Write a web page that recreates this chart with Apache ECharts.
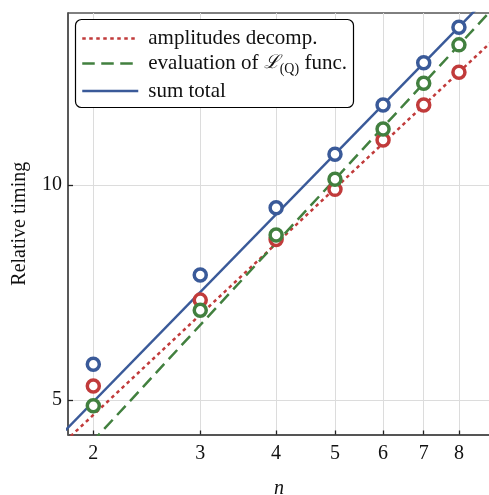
<!DOCTYPE html>
<html>
<head>
<meta charset="utf-8">
<script src="https://cdn.jsdelivr.net/npm/echarts@6/dist/echarts.min.js"></script>
<style>
  html, body { margin: 0; padding: 0; background: #fff; overflow: hidden; }
  #chart { width: 489px; height: 495px; }
</style>
</head>
<body>
<div id="chart"></div>
<script>
// Problem size n and relative timings (log-log plot)
const nValues = [2, 3, 4, 5, 6, 7, 8];
const amplitudesDecomp = [5.23, 6.90, 8.39, 9.86, 11.56, 12.94, 14.38];
const evaluationFunc = [4.91, 6.68, 8.51, 10.19, 11.98, 13.88, 15.71];
const sumTotal = [5.61, 7.48, 9.29, 11.04, 12.94, 14.83, 16.63];

// Power-law fits, evaluated at the ends of the n range
const fitN = [1.8, 9.2];
const amplitudesFit = [4.381, 16.08];
const evaluationFit = [3.980, 17.85];
const sumTotalFit = [4.536, 18.80];

// Axis ticks and ranges
const xTicks = [2, 3, 4, 5, 6, 7, 8];
const yTicks = [5, 10];
const xRange = [1.817, 9.0];
const yRange = [4.474, 17.41];

const names = ['amplitudes decomp.', 'evaluation of \u2112 func.', 'sum total'];
const colors = ['#c13b3b', '#42803f', '#3a5a99'];

const lg = Math.log10;
const toPts = (xs, ys) => xs.map((x, i) => [lg(x), lg(ys[i])]);

const FONT = 'Liberation Serif';

const lineSeries = (name, ys, color, type) => ({
  name: name,
  type: 'line',
  data: toPts(fitN, ys),
  symbol: 'none',
  showSymbol: false,
  clip: true,
  lineStyle: { color: color, width: 2.5, type: type },
  itemStyle: { color: color },
  z: 3,
  silent: true
});

const scatterSeries = (ys, color) => ({
  type: 'scatter',
  data: toPts(nValues, ys),
  symbol: 'circle',
  symbolSize: 12,
  itemStyle: { color: '#fff', borderColor: color, borderWidth: 3.5, opacity: 1 },
  z: 4,
  silent: true
});

const chart = echarts.init(document.getElementById('chart'), null, { renderer: 'canvas', width: 489, height: 495 });

chart.setOption({
  animation: false,
  backgroundColor: '#fff',
  grid: {
    left: 68, top: 13, width: 422, height: 421.5,
    outerBoundsMode: 'none',
    containLabel: false,
    show: true, borderColor: '#000', borderWidth: 1, backgroundColor: 'transparent'
  },
  xAxis: {
    type: 'value',
    min: lg(xRange[0]), max: lg(xRange[1]),
    name: 'n',
    nameLocation: 'middle',
    nameGap: 44,
    nameTextStyle: { fontFamily: FONT, fontStyle: 'italic', fontSize: 20, color: '#111' },
    axisLine: { show: true, lineStyle: { color: '#555', width: 1.8 } },
    axisTick: { show: true, inside: true, length: 4, lineStyle: { color: '#222', width: 1.3 }, customValues: xTicks.map(lg) },
    axisLabel: {
      customValues: xTicks.map(lg),
      margin: 9,
      fontFamily: FONT, fontSize: 20, color: '#111',
      formatter: v => String(Math.round(Math.pow(10, v)))
    },
    splitLine: { show: true, lineStyle: { color: '#dcdcdc', width: 1 } }
  },
  yAxis: {
    type: 'value',
    min: lg(yRange[0]), max: lg(yRange[1]),
    name: 'Relative timing',
    nameLocation: 'middle',
    nameGap: 38,
    nameTextStyle: { fontFamily: FONT, fontSize: 20, color: '#111' },
    axisLine: { show: true, lineStyle: { color: '#555', width: 1.8 } },
    axisTick: { show: true, inside: true, length: 5, lineStyle: { color: '#222', width: 1.3 }, customValues: yTicks.map(lg) },
    axisLabel: {
      customValues: yTicks.map(lg),
      margin: 6,
      fontFamily: FONT, fontSize: 20, color: '#111',
      formatter: v => String(Math.round(Math.pow(10, v)))
    },
    splitLine: { show: true, lineStyle: { color: '#dcdcdc', width: 1 } }
  },
  graphic: [{
    type: 'rect',
    z: 10,
    shape: { x: 75.5, y: 19.5, width: 278, height: 88, r: 6 },
    style: { fill: '#fff', stroke: '#000', lineWidth: 1.2 }
  }],
  legend: {
    z: 11,
    left: 81,
    top: 28,
    orient: 'vertical',
    padding: 0,
    itemGap: 4,
    itemWidth: 56,
    itemHeight: 14,
    data: names,
    itemStyle: { opacity: 0 },
    lineStyle: { width: 2.5 },
    formatter: name => name === names[1]
      ? '{t|evaluation of }{cal|\u2112}{sub|(Q)}{t| func.}'
      : '{t|' + name + '}',
    textStyle: {
      fontFamily: FONT, fontSize: 21, color: '#111',
      padding: [0, 0, 0, 5],
      rich: {
        t: { fontFamily: FONT, fontSize: 21, color: '#111' },
        cal: { fontFamily: 'DejaVu Serif', fontStyle: 'italic', fontSize: 19, color: '#111' },
        sub: { fontFamily: FONT, fontSize: 14, color: '#111', padding: [12, 0, 0, 0] }
      }
    }
  },
  series: [
    lineSeries(names[0], amplitudesFit, colors[0], [3.5, 3.5]),
    lineSeries(names[1], evaluationFit, colors[1], [12.5, 6.5]),
    lineSeries(names[2], sumTotalFit, colors[2], 'solid'),
    scatterSeries(amplitudesDecomp, colors[0]),
    scatterSeries(evaluationFunc, colors[1]),
    scatterSeries(sumTotal, colors[2])
  ]
});
</script>
</body>
</html>
